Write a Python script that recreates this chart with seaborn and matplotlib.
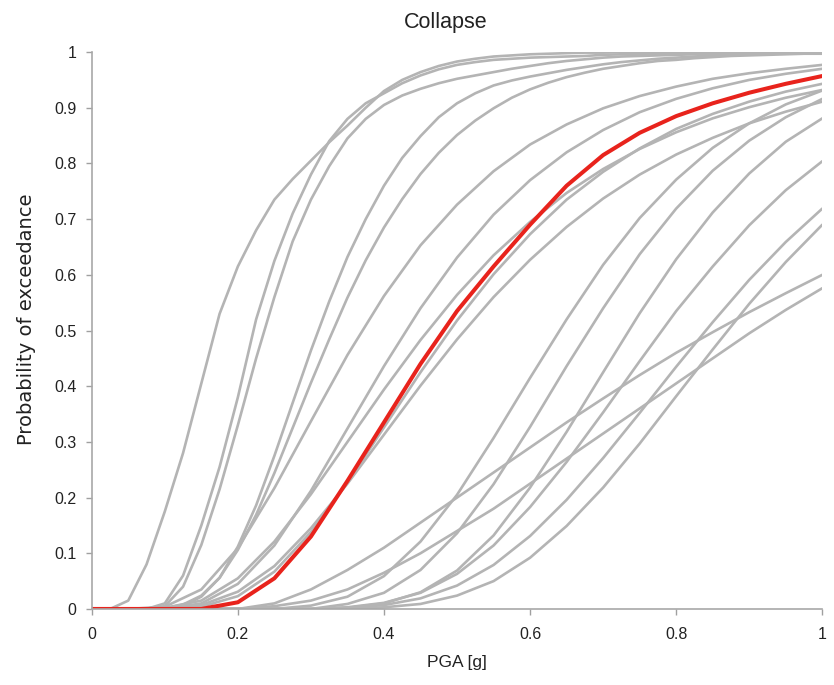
import numpy as np
import pandas as pd
import matplotlib
matplotlib.use("Agg")
import matplotlib.pyplot as plt
import seaborn as sns

# PGA grids [g]
pga_fine = [round(0.025 * i, 3) for i in range(41)]   # 0, 0.025, ..., 1
pga = [round(0.05 * i, 2) for i in range(21)]          # 0, 0.05, ..., 1

# steep (early) fragility curves, read on the fine grid
curve_a = [0, 0, 0.015, 0.08, 0.175, 0.28, 0.405, 0.53, 0.615, 0.68, 0.735, 0.772, 0.805, 0.838,
           0.868, 0.9, 0.93, 0.95, 0.964, 0.975, 0.983, 0.988, 0.992, 0.994, 0.996, 0.997, 0.998,
           0.999, 0.999, 1, 1, 1, 1, 1, 1, 1, 1, 1, 1, 1, 1]
curve_b = [0, 0, 0, 0, 0.01, 0.06, 0.15, 0.255, 0.38, 0.52, 0.625, 0.71, 0.78, 0.84, 0.88, 0.908,
           0.926, 0.944, 0.958, 0.969, 0.977, 0.982, 0.986, 0.988, 0.99, 0.991, 0.992, 0.993, 0.995,
           0.996, 0.997, 0.997, 0.998, 0.998, 0.999, 0.999, 1, 1, 1, 1, 1]
curve_c = [0, 0, 0, 0, 0.005, 0.04, 0.115, 0.215, 0.33, 0.45, 0.56, 0.66, 0.735, 0.795, 0.845, 0.88,
           0.905, 0.922, 0.934, 0.944, 0.952, 0.958, 0.964, 0.97, 0.975, 0.98, 0.984, 0.987, 0.99,
           0.992, 0.993, 0.994, 0.995, 0.996, 0.997, 0.997, 0.998, 0.999, 0.999, 1, 1]
curve_d = [0, 0, 0, 0, 0.001, 0.006, 0.022, 0.056, 0.112, 0.186, 0.275, 0.37, 0.464, 0.552, 0.632,
           0.70, 0.76, 0.81, 0.849, 0.883, 0.908, 0.926, 0.94, 0.949, 0.956, 0.962, 0.968, 0.973,
           0.978, 0.982, 0.985, 0.988, 0.99, 0.992, 0.994, 0.996, 0.997, 0.998, 0.999, 0.999, 1]
curve_e = [0, 0, 0, 0, 0.001, 0.008, 0.024, 0.056, 0.106, 0.169, 0.244, 0.325, 0.406, 0.484, 0.559,
           0.626, 0.685, 0.736, 0.781, 0.819, 0.851, 0.877, 0.899, 0.918, 0.933, 0.945, 0.955, 0.963,
           0.97, 0.975, 0.98, 0.984, 0.986, 0.989, 0.991, 0.993, 0.994, 0.995, 0.996, 0.997, 0.997]

# remaining grey curves, read on the 0.05 grid
curve_f = [0, 0, 0.004, 0.035, 0.109, 0.217, 0.337, 0.456, 0.562, 0.653, 0.726, 0.786, 0.834, 0.87, 0.899, 0.921, 0.938, 0.952, 0.962, 0.97, 0.977]
curve_g = [0, 0, 0, 0.01, 0.045, 0.114, 0.212, 0.324, 0.436, 0.54, 0.631, 0.708, 0.77, 0.82, 0.86, 0.892, 0.916, 0.935, 0.95, 0.961, 0.97]
curve_h = [0, 0, 0.002, 0.015, 0.055, 0.121, 0.206, 0.30, 0.394, 0.483, 0.564, 0.635, 0.695, 0.747, 0.79, 0.826, 0.856, 0.881, 0.901, 0.918, 0.932]
curve_i = [0, 0, 0, 0.004, 0.023, 0.067, 0.138, 0.227, 0.326, 0.425, 0.518, 0.601, 0.673, 0.735, 0.785, 0.827, 0.862, 0.889, 0.911, 0.929, 0.943]
curve_j = [0, 0, 0, 0.007, 0.031, 0.077, 0.145, 0.225, 0.313, 0.401, 0.484, 0.56, 0.627, 0.686, 0.737, 0.78, 0.816, 0.846, 0.872, 0.893, 0.911]
curve_s1 = [0, 0, 0, 0, 0, 0, 0.006, 0.022, 0.059, 0.121, 0.205, 0.307, 0.415, 0.52, 0.618, 0.702, 0.771, 0.828, 0.872, 0.906, 0.931]
curve_s2 = [0, 0, 0, 0, 0, 0, 0, 0.009, 0.029, 0.07, 0.136, 0.224, 0.327, 0.436, 0.54, 0.637, 0.719, 0.787, 0.841, 0.883, 0.916]
curve_l1 = [0, 0, 0, 0, 0, 0, 0, 0.002, 0.01, 0.03, 0.069, 0.132, 0.218, 0.318, 0.425, 0.531, 0.628, 0.712, 0.782, 0.839, 0.881]
curve_l2 = [0, 0, 0, 0, 0, 0, 0, 0.003, 0.011, 0.029, 0.063, 0.114, 0.183, 0.264, 0.353, 0.445, 0.535, 0.615, 0.689, 0.752, 0.804]
curve_l3 = [0, 0, 0, 0, 0, 0, 0, 0.002, 0.007, 0.019, 0.042, 0.079, 0.131, 0.196, 0.271, 0.352, 0.435, 0.515, 0.591, 0.659, 0.719]
curve_l4 = [0, 0, 0, 0, 0, 0, 0, 0, 0.003, 0.009, 0.024, 0.05, 0.092, 0.149, 0.218, 0.297, 0.382, 0.466, 0.548, 0.623, 0.69]
curve_l5 = [0, 0, 0, 0, 0, 0.01, 0.035, 0.07, 0.11, 0.155, 0.2, 0.245, 0.29, 0.335, 0.378, 0.42, 0.46, 0.497, 0.533, 0.567, 0.60]
curve_l6 = [0, 0, 0, 0, 0, 0.005, 0.015, 0.035, 0.065, 0.1, 0.14, 0.18, 0.225, 0.27, 0.315, 0.36, 0.405, 0.45, 0.495, 0.537, 0.576]

# highlighted (red) curve
curve_red = [0, 0, 0, 0, 0.012, 0.055, 0.13, 0.23, 0.335, 0.44, 0.535, 0.615, 0.69, 0.76, 0.815, 0.855, 0.885, 0.908, 0.927, 0.943, 0.957]

fine_curves = {"A": curve_a, "B": curve_b, "C": curve_c, "D": curve_d, "E": curve_e}
coarse_curves = {
    "F": curve_f, "G": curve_g, "H": curve_h, "I": curve_i, "J": curve_j,
    "S1": curve_s1, "S2": curve_s2, "L1": curve_l1, "L2": curve_l2,
    "L3": curve_l3, "L4": curve_l4, "L5": curve_l5, "L6": curve_l6,
}

x_ticks = [0, 0.2, 0.4, 0.6, 0.8, 1]
x_tick_labels = ["0", "0.2", "0.4", "0.6", "0.8", "1"]
y_ticks = [0, 0.1, 0.2, 0.3, 0.4, 0.5, 0.6, 0.7, 0.8, 0.9, 1]
y_tick_labels = ["0", "0.1", "0.2", "0.3", "0.4", "0.5", "0.6", "0.7", "0.8", "0.9", "1"]

rows = []
for name, vals in fine_curves.items():
    for xv, yv in zip(pga_fine, vals):
        rows.append({"curve": name, "PGA": xv, "P": yv})
for name, vals in coarse_curves.items():
    for xv, yv in zip(pga, vals):
        rows.append({"curve": name, "PGA": xv, "P": yv})
df_grey = pd.DataFrame(rows)
df_red = pd.DataFrame({"PGA": pga, "P": curve_red})

sns.set_theme(style="white")
plt.rcParams["font.family"] = ["Liberation Sans", "DejaVu Sans"]

fig = plt.figure(figsize=(8.34, 6.85), dpi=100)
ax = fig.add_axes([0.110, 0.111, 0.876, 0.813])

sns.lineplot(data=df_grey, x="PGA", y="P", units="curve", estimator=None,
             color="#b4b4b4", linewidth=1.9, ax=ax, legend=False)
sns.lineplot(data=df_red, x="PGA", y="P", color="#e8231c", linewidth=2.9,
             ax=ax, legend=False)

ax.set_xlim(0, 1)
ax.set_ylim(0, 1)
ax.set_xticks(x_ticks)
ax.set_xticklabels(x_tick_labels)
ax.set_yticks(y_ticks)
ax.set_yticklabels(y_tick_labels)
ax.tick_params(axis="both", which="both", direction="out", length=4,
               width=1, color="#a0a0a0", labelsize=11.5, labelcolor="#222222",
               bottom=True, left=True)
ax.tick_params(axis="x", pad=9)
ax.tick_params(axis="y", pad=7)

for side in ["top", "right"]:
    ax.spines[side].set_visible(False)
for side in ["left", "bottom"]:
    ax.spines[side].set_color("#a8a8a8")
    ax.spines[side].set_linewidth(1.2)

ax.set_xlabel("PGA [g]", fontsize=12.5, color="#222222", labelpad=9)
ax.set_ylabel("Probability of exceedance", fontsize=14, color="#222222",
              family=["DejaVu Sans"])
ax.yaxis.set_label_coords(-0.076, 0.52)
ax.set_title("Collapse", fontsize=15.5, color="#222222", pad=17, x=0.484)

fig.savefig("out.png", dpi=100, facecolor="white")
